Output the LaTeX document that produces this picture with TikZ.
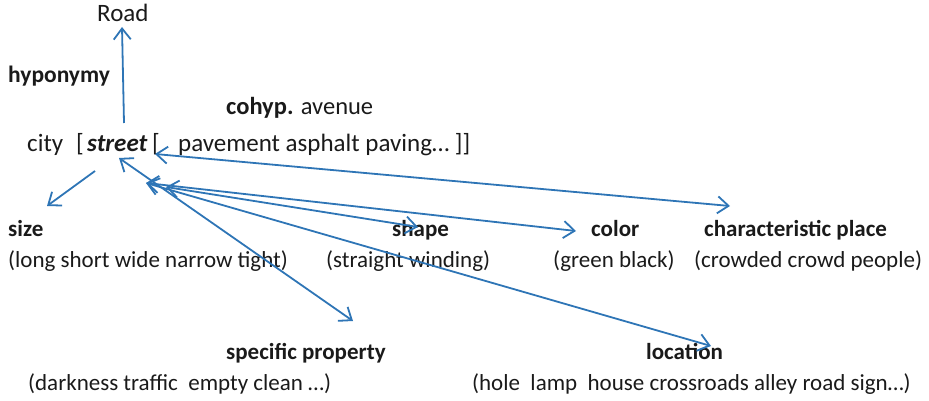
\documentclass[tikz,border=0pt]{standalone}
\usepackage{fontspec}
\setmainfont{Carlito}
\usetikzlibrary{arrows.meta}
\definecolor{lineblue}{HTML}{2E75B6}
\definecolor{txt}{HTML}{1A1A1A}
\tikzset{
  lbl/.style={anchor=base west,inner sep=0pt,text=txt,font=\fontsize{23}{27}\selectfont},
  big/.style={lbl,font=\fontsize{25}{29}\selectfont},
  tip/.tip={Straight Barb[length=11pt,width=17pt,line width=1.8pt]},
  arr/.style={draw=lineblue,line width=1.8pt,-tip},
  darr/.style={draw=lineblue,line width=1.8pt,tip-tip}
}
\begin{document}
\begin{tikzpicture}[x=1pt,y=-1pt]
\useasboundingbox (0,0) rectangle (929,401);
% texts
\node[big] (road) at (97,22) {Road};
\node[lbl,font=\fontsize{23.5}{27}\selectfont] (hyp) at (8,83) {\textbf{hyponymy}};
\node[lbl,font=\fontsize{24.5}{28}\selectfont] (cohyp) at (226,115) {\textbf{cohyp.} avenue};
\node[big] (city) at (27,152) {city};
\node[big] (lb1) at (76,152) {[};
\node[big] (street) at (87,152) {\textbf{\textit{street}}};
\node[big] (lb2) at (152,152) {[};
\node[big] (pave) at (178,152) {pavement asphalt paving… ]]};
\node[lbl] (size) at (8,236) {\textbf{size}};
\node[lbl] (sizev) at (8,267) {(long short wide narrow tight)};
\node[lbl] (shape) at (392,236) {\textbf{shape}};
\node[lbl] (shapev) at (326,267) {(straight winding)};
\node[lbl] (color) at (591,236) {\textbf{color}};
\node[lbl] (colorv) at (553,267) {(green black)};
\node[lbl] (place) at (704,236) {\textbf{characteristic place}};
\node[lbl] (placev) at (694,267) {(crowded crowd people)};
\node[lbl] (spec) at (226,359) {\textbf{specific property}};
\node[lbl] (specv) at (28,390) {(darkness traffic~ empty clean …)};
\node[lbl] (loc) at (646,359) {\textbf{location}};
\node[lbl] (locv) at (472,390) {(hole~ lamp~ house crossroads alley road sign…)};
% connector ends
\coordinate (roadFoot) at (124,123);
\coordinate (roadTip) at (122,27);
\coordinate (sizeFoot) at (95,171);
\coordinate (sizeTip) at (47,206);
\coordinate (brTip) at (155,154);
\coordinate (placeTip) at (730,206);
\coordinate (stTip) at (119,158);
\coordinate (specTip) at (353,321);
\coordinate (hubA) at (146,183);
\coordinate (hubB) at (166,187);
\coordinate (shapeTip) at (418,227);
\coordinate (colorTip) at (576,231);
\coordinate (locTip) at (711,346);
% connectors
\draw[arr] (roadFoot) -- (roadTip);
\draw[arr] (sizeFoot) -- (sizeTip);
\draw[darr] (brTip) -- (placeTip);
\draw[darr] (stTip) -- (specTip);
\draw[darr] (hubB) -- (shapeTip);
\draw[darr] (hubA) -- (colorTip);
\draw[darr] (hubA) -- (locTip);
\end{tikzpicture}
\end{document}
